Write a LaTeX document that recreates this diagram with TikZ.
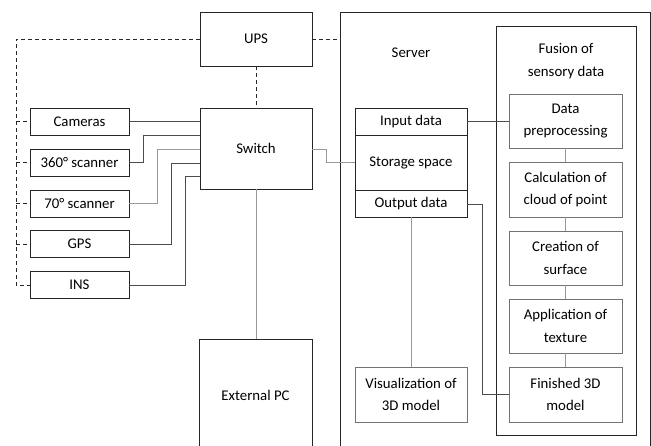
\documentclass[tikz,border=0pt]{standalone}
\usepackage{fontspec}
\setmainfont{Carlito}
\begin{document}
\begin{tikzpicture}[x=1pt,y=-1pt,
  every node/.style={font=\fontsize{14.8}{22.5}\selectfont, align=center, inner sep=0pt},
  box/.style={draw=black!85, line width=0.8pt, rectangle},
  ibox/.style={draw=black!55, line width=0.8pt, rectangle},
  conn/.style={draw=black!70, line width=0.6pt},
  lconn/.style={draw=black!40, line width=0.7pt},
  pwr/.style={draw=black!85, line width=0.75pt, dash pattern=on 4pt off 3pt}]
\useasboundingbox (0,0) rectangle (651,445);
\clip (0,0) rectangle (651,445);
% power and network
\node[box, minimum width=112, minimum height=54] (ups) at (256,39) {UPS};
\node[box, minimum width=112, minimum height=81] (sw) at (256,148.5) {Switch};
\node[box, minimum width=99, minimum height=27] (cam) at (79.5,121.5) {Cameras};
\node[box, minimum width=99, minimum height=27] (s360) at (79.5,162.5) {360° scanner};
\node[box, minimum width=99, minimum height=27] (s70) at (79.5,203.5) {70° scanner};
\node[box, minimum width=99, minimum height=27] (gps) at (79.5,244) {GPS};
\node[box, minimum width=99, minimum height=27] (ins) at (79.5,285) {INS};
\node[box, minimum width=113, minimum height=112] (pc) at (255.5,395) {External PC};
% server
\node[box, minimum width=310, minimum height=460, anchor=north west] (server) at (340,12) {};
\node (srvlbl) at (411,53) {Server};
\node[box, minimum width=140, minimum height=409, anchor=north west] (fusion) at (496,26) {};
\node (fuslbl) at (566,61) {Fusion of\\sensory data};
\node[box, minimum width=112, minimum height=27] (in) at (411,121.5) {Input data};
\node[box, minimum width=112, minimum height=55] (store) at (411,162.5) {Storage space};
\node[box, minimum width=112, minimum height=27] (out) at (411,203.5) {Output data};
\node[ibox, minimum width=112, minimum height=55] (vis) at (411,394.5) {Visualization of\\3D model};
\node[ibox, minimum width=113, minimum height=54] (dp) at (565.5,121) {Data\\preprocessing};
\node[ibox, minimum width=113, minimum height=55] (calc) at (565.5,189.5) {Calculation of\\cloud of point};
\node[ibox, minimum width=113, minimum height=54] (cre) at (565.5,258) {Creation of\\surface};
\node[ibox, minimum width=113, minimum height=54] (app) at (565.5,326) {Application of\\texture};
\node[ibox, minimum width=113, minimum height=55] (fin) at (565.5,394.5) {Finished 3D\\model};
% dashed power lines
\coordinate (pl) at (16,39);
\draw[pwr] (ups.west) -- (pl) |- (ins.west);
\draw[pwr] (pl |- cam.west) -- (cam.west);
\draw[pwr] (pl |- s360.west) -- (s360.west);
\draw[pwr] (pl |- s70.west) -- (s70.west);
\draw[pwr] (pl |- gps.west) -- (gps.west);
\draw[pwr] (ups.south) -- (sw.north);
\draw[pwr] (ups.east) -- (ups.east -| server.west);
% sensor connectors
\draw[conn] (cam.east) -- (cam.east -| sw.west);
\coordinate (j1) at (143,135);
\draw[conn] (s360.east) -| (j1) -- (j1 -| sw.west);
\coordinate (j2) at (157,149);
\draw[lconn] (s70.east) -| (j2) -- (j2 -| sw.west);
\coordinate (j3) at (171,163);
\draw[conn] (gps.east) -| (j3) -- (j3 -| sw.west);
\coordinate (j4) at (185,176);
\draw[conn] (ins.east) -| (j4) -- (j4 -| sw.west);
\coordinate (j5) at (326,149);
\draw[lconn] (sw.east |- j5) -- (j5) |- (store.west);
\draw[lconn] (sw.south) -- (sw.south |- pc.north);
% server connectors
\draw[conn] (in.east) -- (in.east -| dp.west);
\coordinate (j6) at (482,204);
\draw[conn] (out.east |- j6) -- (j6) |- (fin.west);
\draw[lconn] (out.south) -- (vis.north);
\draw[lconn] (dp.south) -- (calc.north);
\draw[lconn] (calc.south) -- (cre.north);
\draw[lconn] (cre.south) -- (app.north);
\draw[lconn] (app.south) -- (fin.north);
\end{tikzpicture}
\end{document}
